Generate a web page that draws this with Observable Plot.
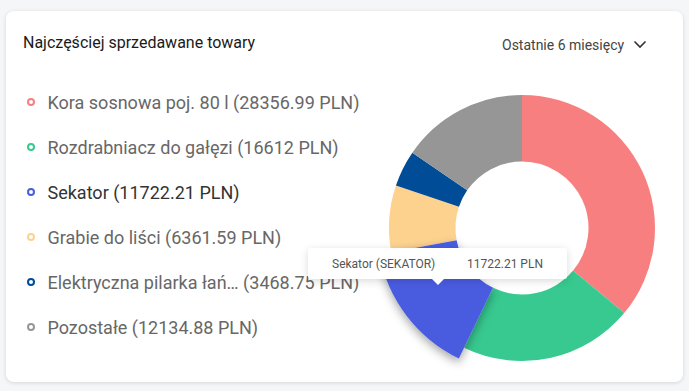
<!DOCTYPE html>
<html><head><meta charset="utf-8">
<script src="https://cdn.jsdelivr.net/npm/d3@7"></script>
<script src="https://cdn.jsdelivr.net/npm/@observablehq/plot@0.6"></script>
<style>
html,body{margin:0;padding:0}
body{background:#f5f6f8;font-family:Roboto,"Noto Sans",sans-serif;width:689px;height:391px;overflow:hidden;position:relative}
.card{position:absolute;left:6px;top:11px;width:677px;height:371px;background:#fff;border-radius:8px;box-shadow:0 1px 4px rgba(0,0,0,0.13)}
.title{position:absolute;left:23px;top:33px;font-size:16px;font-weight:400;color:#1a1a1a;line-height:20px}
.range{position:absolute;left:502px;top:35px;font-size:14px;color:#444;line-height:20px}
.chev{position:absolute;left:633px;top:40px}
.legend{position:absolute;left:0;top:0}
.item{position:absolute;left:27px;height:24px;display:flex;align-items:center;white-space:nowrap}
.dot{width:4px;height:4px;border-radius:50%;border:2.8px solid;box-sizing:content-box;margin-right:12.5px}
.lbl{font-size:18px;color:#676767}
.lbl.active{color:#333}
#chart{position:absolute;left:367px;top:73px}
.tip{position:absolute;left:308px;top:248px;width:259px;height:31px;background:#fff;border-radius:3px;box-shadow:0 2px 8px rgba(0,0,0,0.15);font-size:12px;color:#555}
.tip span{position:absolute;top:8px;line-height:16px}
.tip:after{content:"";position:absolute;left:124px;top:31px;border-left:6px solid transparent;border-right:6px solid transparent;border-top:6px solid #fff}
#err{position:absolute;left:10px;top:360px;font-size:10px;color:red}
</style></head>
<body>
<div class="card"></div>
<div class="title">Najczęściej sprzedawane towary</div>
<div class="range">Ostatnie 6 miesięcy</div>
<svg class="chev" width="14" height="9"><path d="M1.5 1.5 L7 7 L12.5 1.5" fill="none" stroke="#333" stroke-width="1.6"/></svg>
<div class="legend" id="legend"></div>
<div id="chart"></div>
<div class="tip"><span style="left:24px">Sekator (SEKATOR)</span><span style="left:159px">11722.21 PLN</span></div>
<div id="err"></div>
<script>
const names = ["Kora sosnowa poj. 80 l", "Rozdrabniacz do gałęzi", "Sekator", "Grabie do liści", "Elektryczna pilarka łań…", "Pozostałe"];
const values = [28356.99, 16612, 11722.21, 6361.59, 3468.75, 12134.88];
const valueLabels = ["28356.99", "16612", "11722.21", "6361.59", "3468.75", "12134.88"];
const colors = ["#f87f7f", "#37c98f", "#4a5ce0", "#fdd28f", "#004c97", "#969696"];
const activeName = "Sekator";

const data = names.map((n, i) => ({name: n, value: values[i], label: valueLabels[i]}));

// legend
const legend = document.getElementById("legend");
data.forEach((d, i) => {
  const it = document.createElement("div");
  it.className = "item";
  it.style.top = (90 + i * 45) + "px";
  const dot = document.createElement("div");
  dot.className = "dot";
  dot.style.borderColor = colors[i];
  const lbl = document.createElement("div");
  lbl.className = "lbl" + (d.name === activeName ? " active" : "");
  lbl.textContent = `${d.name} (${d.label} PLN)`;
  it.appendChild(dot); it.appendChild(lbl);
  legend.appendChild(it);
});

try {
  const inner = 66.5, outer = 133, outerActive = 145;
  function donut(index, scales, vals, dims) {
    const color = scales.color;
    const cx = dims.width / 2, cy = dims.height / 2;
    const arcs = d3.pie().sort(null).value(d => d.value)(data);
    const g = d3.create("svg:g").attr("transform", `translate(${cx},${cy})`);
    const f = g.append("defs").append("filter").attr("id", "sh")
      .attr("x", "-50%").attr("y", "-50%").attr("width", "200%").attr("height", "200%");
    f.append("feDropShadow").attr("dx", 0).attr("dy", 4).attr("stdDeviation", 5)
      .attr("flood-color", "#000").attr("flood-opacity", 0.35);
    const order = arcs.slice().sort((a, b) => (a.data.name === activeName) - (b.data.name === activeName));
    for (const a of order) {
      const active = a.data.name === activeName;
      g.append("path")
        .attr("d", d3.arc().innerRadius(inner).outerRadius(active ? outerActive : outer)(a))
        .attr("fill", color ? color(a.data.name) : colors[names.indexOf(a.data.name)])
        .attr("filter", active ? "url(#sh)" : null);
    }
    return g.node();
  }
  const chart = Plot.plot({
    width: 310, height: 310, margin: 0,
    x: {axis: null}, y: {axis: null},
    color: {domain: names, range: colors},
    marks: [
      Plot.dot(data, {fill: "name", r: 0, fillOpacity: 0}),
      donut
    ]
  });
  document.getElementById("chart").appendChild(chart);
} catch (e) {
  document.getElementById("err").textContent = String(e);
}
</script>
</body></html>
